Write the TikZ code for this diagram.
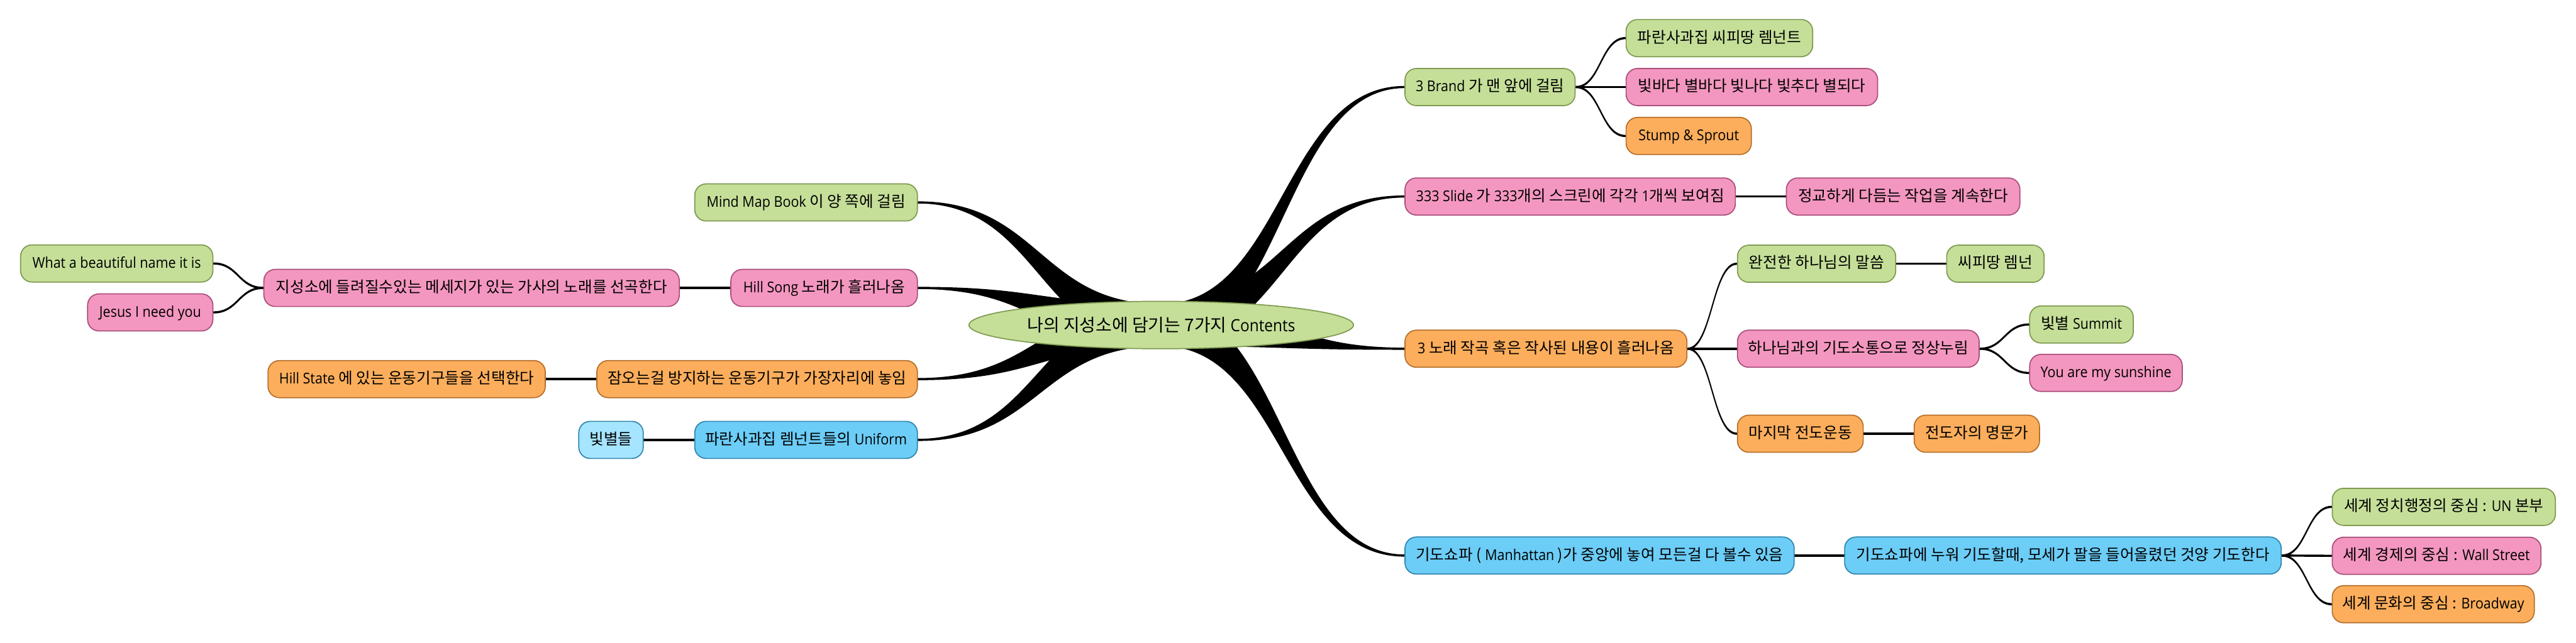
\documentclass[tikz,border=0pt]{standalone}
\usepackage{fontspec}
\setmainfont{Noto Sans CJK KR}
\newfontfamily\lat[Scale=0.96,FakeStretch=0.91]{Open Sans}
\usetikzlibrary{calc,backgrounds,shapes.geometric}
\definecolor{grn}{HTML}{C5DF99}
\definecolor{grnline}{HTML}{7F9A50}
\definecolor{pnk}{HTML}{F497C0}
\definecolor{pnkline}{HTML}{A94F7B}
\definecolor{org}{HTML}{FCAE5C}
\definecolor{orgline}{HTML}{B5702C}
\definecolor{blu}{HTML}{6CCDF7}
\definecolor{bluline}{HTML}{2F87AE}
\definecolor{sky}{HTML}{A6E5FF}
\tikzset{
  topic/.style={draw,rounded corners=2.2mm,line width=0.6pt,minimum height=7.2mm,inner xsep=0pt,inner ysep=0pt,
    font=\fontsize{8.55}{10}\selectfont,text height=2.4mm,text depth=0.6mm,align=center},
  greentopic/.style={topic,fill=grn,draw=grnline},
  pinktopic/.style={topic,fill=pnk,draw=pnkline},
  orangetopic/.style={topic,fill=org,draw=orgline},
  bluetopic/.style={topic,fill=blu,draw=bluline},
  skytopic/.style={topic,fill=sky,draw=bluline},
}
% ribbon from #1 to #2, half thickness #3 at the start
\newcommand\ribbon[3]{
\filldraw[line width=0.5pt] let \p1=(#1),\p2=(#2),\n1={(\x1+\x2)/2} in
  (\x1,\y1+#3) .. controls (\n1,\y1+#3) and (\n1,\y2+0.012cm) .. (\x2,\y2+0.012cm)
  -- (\x2,\y2-0.012cm) .. controls (\n1,\y2-0.012cm) and (\n1,\y1-#3) .. (\x1,\y1-#3) -- cycle;
}
\newcommand\link[2]{\ribbon{#1}{#2}{0.012cm}}
\begin{document}
\begin{tikzpicture}
\useasboundingbox (0,0) rectangle (49.98,-12.48);
\node[ellipse,draw=grnline,fill=grn,line width=0.6pt,minimum width=7.46cm,minimum height=0.92cm,inner sep=0pt,font=\fontsize{9.7}{12}\selectfont] (root) at (22.53,-6.31) {나의 지성소에 담기는 7가지 {\lat Contents}};
% left side
\node[greentopic,minimum width=4.32cm] (book) at (15.64,-3.93) {{\lat Mind Map Book} 이 양 쪽에 걸림};
\node[pinktopic,minimum width=3.62cm] (song) at (15.99,-5.59) {{\lat Hill Song} 노래가 흘러나옴};
\node[pinktopic,minimum width=8.06cm] (lyric) at (9.15,-5.59) {지성소에 들려질수있는 메세지가 있는 가사의 노래를 선곡한다};
\node[greentopic,minimum width=3.73cm] (name) at (2.265,-5.115) {{\lat What a beautiful name it is}};
\node[pinktopic,minimum width=2.43cm] (jesus) at (2.915,-6.065) {{\lat Jesus I need you}};
\node[orangetopic,minimum width=6.22cm] (sleep) at (14.69,-7.36) {잠오는걸 방지하는 운동기구가 가장자리에 놓임};
\node[orangetopic,minimum width=5.38cm] (state) at (7.89,-7.36) {{\lat Hill State} 에 있는 운동기구들을 선택한다};
\node[bluetopic,minimum width=4.32cm] (uniform) at (15.64,-8.54) {파란사과집 렘넌트들의 {\lat Uniform}};
\node[skytopic,minimum width=1.25cm] (stars) at (11.855,-8.54) {빛별들};
% right side
\node[greentopic,minimum width=3.30cm] (brand) at (28.91,-1.69) {{\lat 3 Brand} 가 맨 앞에 걸림};
\node[greentopic,minimum width=3.62cm] (remnant) at (33.36,-0.74) {파란사과집 씨피땅 렘넌트};
\node[pinktopic,minimum width=4.88cm] (sea) at (33.99,-1.69) {빛바다 별바다 빛나다 빛추다 별되다};
\node[orangetopic,minimum width=2.43cm] (stump) at (32.765,-2.64) {{\lat Stump \& Sprout}};
\node[pinktopic,minimum width=6.41cm] (slide) at (30.465,-3.815) {{\lat 333 Slide} 가 {\lat 333}개의 스크린에 각각 {\lat 1}개씩 보여짐};
\node[pinktopic,minimum width=4.53cm] (polish) at (36.925,-3.815) {정교하게 다듬는 작업을 계속한다};
\node[orangetopic,minimum width=5.47cm] (music) at (29.995,-6.77) {{\lat 3} 노래 작곡 혹은 작사된 내용이 흘러나옴};
\node[greentopic,minimum width=3.07cm] (word) at (35.245,-5.12) {완전한 하나님의 말씀};
\node[greentopic,minimum width=1.89cm] (land) at (38.715,-5.12) {씨피땅 렘넌};
\node[pinktopic,minimum width=4.69cm] (prayer) at (36.055,-6.77) {하나님과의 기도소통으로 정상누림};
\node[greentopic,minimum width=2.01cm] (summit) at (40.385,-6.30) {빛별 {\lat Summit}};
\node[pinktopic,minimum width=2.96cm] (sunshine) at (40.86,-7.24) {{\lat You are my sunshine}};
\node[orangetopic,minimum width=2.44cm] (last) at (34.93,-8.42) {마지막 전도운동};
\node[orangetopic,minimum width=2.43cm] (family) at (38.355,-8.42) {전도자의 명문가};
\node[bluetopic,minimum width=7.55cm] (sofa) at (31.035,-10.785) {기도쇼파 ( {\lat Manhattan} )가 중앙에 놓여 모든걸 다 볼수 있음};
\node[bluetopic,minimum width=8.47cm] (moses) at (40.025,-10.785) {기도쇼파에 누워 기도할때, 모세가 팔을 들어올렸던 것양 기도한다};
\node[greentopic,minimum width=4.33cm] (un) at (47.415,-9.84) {세계 정치행정의 중심 : {\lat UN} 본부};
\node[pinktopic,minimum width=4.05cm] (wall) at (47.275,-10.79) {세계 경제의 중심 : {\lat Wall Street}};
\node[orangetopic,minimum width=3.92cm] (broadway) at (47.21,-11.73) {세계 문화의 중심 : {\lat Broadway}};
\begin{scope}[on background layer]
\ribbon{root.center}{book.east}{0.4cm}
\ribbon{root.center}{song.east}{0.4cm}
\ribbon{root.center}{sleep.east}{0.4cm}
\ribbon{root.center}{uniform.east}{0.4cm}
\ribbon{root.center}{brand.west}{0.4cm}
\ribbon{root.center}{slide.west}{0.4cm}
\ribbon{root.center}{music.west}{0.4cm}
\ribbon{root.center}{sofa.west}{0.4cm}
\link{song.west}{lyric.east}
\link{lyric.west}{name.east}
\link{lyric.west}{jesus.east}
\link{sleep.west}{state.east}
\link{uniform.west}{stars.east}
\link{brand.east}{remnant.west}
\link{brand.east}{sea.west}
\link{brand.east}{stump.west}
\link{slide.east}{polish.west}
\link{music.east}{word.west}
\link{music.east}{prayer.west}
\link{music.east}{last.west}
\link{word.east}{land.west}
\link{prayer.east}{summit.west}
\link{prayer.east}{sunshine.west}
\link{last.east}{family.west}
\link{sofa.east}{moses.west}
\link{moses.east}{un.west}
\link{moses.east}{wall.west}
\link{moses.east}{broadway.west}
\end{scope}
\end{tikzpicture}
\end{document}
